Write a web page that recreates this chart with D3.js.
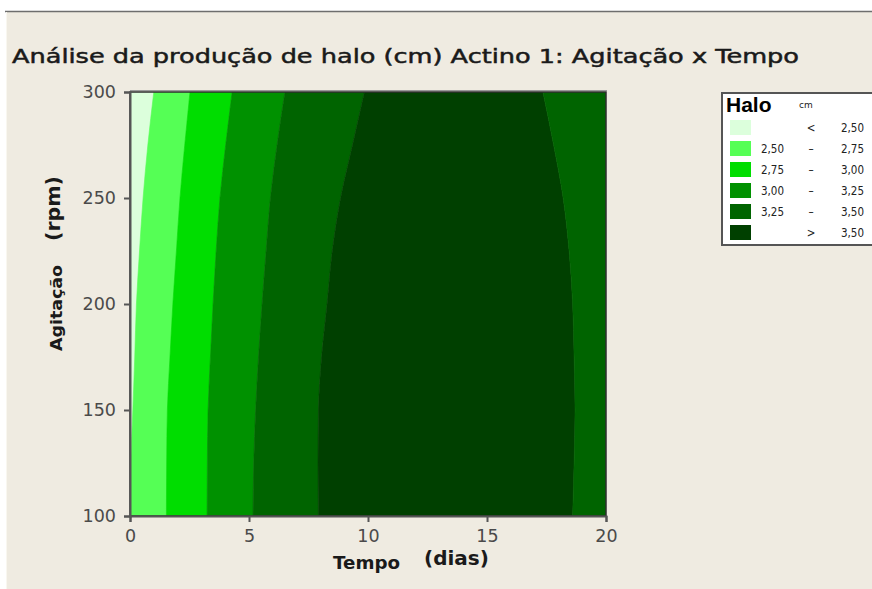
<!DOCTYPE html>
<html>
<head>
<meta charset="utf-8">
<script src="https://cdn.jsdelivr.net/npm/d3@7"></script>
<style>
  html, body { margin: 0; padding: 0; background: #ffffff; }
  svg { display: block; }
</style>
</head>
<body>
<svg id="chart" width="872" height="589"></svg>
<script>
// Contour plot: halo production (cm) versus agitation (rpm) and time (days)

// Agitation levels at which each contour line is sampled
const agitacao = [100, 125, 150, 175, 200, 225, 250, 275, 300];

// Tempo (days) of each contour line at the agitation levels above
const limite250 = [0.00, 0.03, 0.12, 0.20, 0.27, 0.40, 0.55, 0.75, 1.00];
const limite275 = [1.53, 1.54, 1.57, 1.68, 1.80, 1.95, 2.10, 2.30, 2.52];
const limite300 = [3.24, 3.25, 3.28, 3.38, 3.49, 3.62, 3.78, 4.02, 4.29];
const limite325 = [5.17, 5.20, 5.28, 5.40, 5.55, 5.72, 5.90, 6.18, 6.51];
const limite350Esq = [7.92, 7.90, 7.92, 8.05, 8.28, 8.50, 8.85, 9.35, 9.85];
const limite350Dir = [18.60, 18.66, 18.70, 18.66, 18.60, 18.45, 18.20, 17.80, 17.35];

// Legend classes
const classesMin = ["", "2,50", "2,75", "3,00", "3,25", ""];
const classesSep = ["<", "\u2013", "\u2013", "\u2013", "\u2013", ">"];
const classesMax = ["2,50", "2,75", "3,00", "3,25", "3,50", "3,50"];
const cores = ["#dcffdc", "#55ff55", "#00dd00", "#009100", "#006400", "#004000"];

// Axis ticks
const ticksTempo = [0, 5, 10, 15, 20];
const ticksAgitacao = [100, 150, 200, 250, 300];

const svg = d3.select("#chart");

// window frame
svg.append("rect").attr("x", 6).attr("y", 12).attr("width", 866).attr("height", 577)
  .attr("fill", "#efebe1");
svg.append("line").attr("x1", 5).attr("x2", 872).attr("y1", 11.5).attr("y2", 11.5)
  .attr("stroke", "#6e6e6e").attr("stroke-width", 1.5);
svg.append("line").attr("x1", 6.5).attr("x2", 6.5).attr("y1", 12).attr("y2", 589)
  .attr("stroke", "#f9f7f0").attr("stroke-width", 1);

const x = d3.scaleLinear().domain([0, 20]).range([130, 606]);
const y = d3.scaleLinear().domain([100, 300]).range([516, 92]);

// Filled bands between consecutive contour lines
const zero = agitacao.map(() => 0);
const vinte = agitacao.map(() => 20);
const faixas = [
  { cor: 0, esq: zero, dir: limite250 },
  { cor: 1, esq: limite250, dir: limite275 },
  { cor: 2, esq: limite275, dir: limite300 },
  { cor: 3, esq: limite300, dir: limite325 },
  { cor: 4, esq: limite325, dir: limite350Esq },
  { cor: 5, esq: limite350Esq, dir: limite350Dir },
  { cor: 4, esq: limite350Dir, dir: vinte }
];

svg.append("clipPath").attr("id", "areaPlot")
  .append("rect").attr("x", x(0)).attr("y", y(300))
  .attr("width", x(20) - x(0)).attr("height", y(100) - y(300));

const area = d3.area()
  .curve(d3.curveMonotoneY)
  .y((d, i) => y(agitacao[i]));

const g = svg.append("g").attr("clip-path", "url(#areaPlot)");
faixas.forEach(f => {
  g.append("path")
    .datum(agitacao)
    .attr("d", area.x0((d, i) => x(f.esq[i])).x1((d, i) => x(f.dir[i])))
    .attr("fill", cores[f.cor])
    .attr("stroke", cores[f.cor])
    .attr("stroke-width", 0.6);
});

// plot border
svg.append("rect").attr("x", x(0)).attr("y", y(300))
  .attr("width", x(20) - x(0)).attr("height", y(100) - y(300))
  .attr("fill", "none").attr("stroke", "#2e2e2e").attr("stroke-width", 1.5);
svg.append("line").attr("x1", x(0)).attr("x2", x(20) + 1).attr("y1", y(300) - 1.5).attr("y2", y(300) - 1.5)
  .attr("stroke", "#9a9a9a").attr("stroke-width", 1);

// axes
const fonteEixo = "'DejaVu Sans', Verdana, sans-serif";
const eixoX = svg.append("g").attr("transform", `translate(0,${y(100)})`)
  .call(d3.axisBottom(x).tickValues(ticksTempo).tickSize(6).tickPadding(8));
const eixoY = svg.append("g").attr("transform", `translate(${x(0)},0)`)
  .call(d3.axisLeft(y).tickValues(ticksAgitacao).tickSize(6).tickPadding(8));
[eixoX, eixoY].forEach(e => {
  e.select(".domain").attr("stroke", "#555").attr("stroke-width", 2);
  e.selectAll(".tick line").attr("stroke", "#555").attr("stroke-width", 2);
  e.selectAll(".tick text").attr("fill", "#4a4a4a")
    .style("font-family", fonteEixo).style("font-size", "17.5px");
});

// title
svg.append("text").attr("x", 12).attr("y", 63)
  .attr("textLength", 787).attr("lengthAdjust", "spacingAndGlyphs")
  .style("font-family", fonteEixo).style("font-size", "20px")
  .attr("fill", "#1a1a1a").attr("stroke", "#1a1a1a").attr("stroke-width", 0.5)
  .text("Análise da produção de halo (cm) Actino 1:  Agitação x Tempo");

// axis titles
svg.append("text").attr("x", 333).attr("y", 569)
  .attr("textLength", 67).attr("lengthAdjust", "spacingAndGlyphs")
  .style("font-family", fonteEixo).style("font-size", "17px").style("font-weight", "bold")
  .attr("fill", "#1a1a1a").text("Tempo");
svg.append("text").attr("x", 424).attr("y", 565)
  .style("font-family", fonteEixo).style("font-size", "20px").style("font-weight", "bold")
  .attr("fill", "#1a1a1a").text("(dias)");

svg.append("text")
  .attr("transform", "translate(62,351) rotate(-90)")
  .attr("textLength", 86).attr("lengthAdjust", "spacingAndGlyphs")
  .style("font-family", fonteEixo).style("font-size", "16.5px").style("font-weight", "bold")
  .attr("fill", "#1a1a1a").text("Agitação");
svg.append("text")
  .attr("transform", "translate(60,241) rotate(-90)")
  .attr("textLength", 65).attr("lengthAdjust", "spacingAndGlyphs")
  .style("font-family", fonteEixo).style("font-size", "19px").style("font-weight", "bold")
  .attr("fill", "#1a1a1a").text("(rpm)");

// legend
const leg = svg.append("g");
leg.append("rect").attr("x", 722).attr("y", 93).attr("width", 152).attr("height", 152)
  .attr("fill", "#ffffff").attr("stroke", "#555").attr("stroke-width", 2);
leg.append("text").attr("x", 726).attr("y", 112)
  .style("font-family", "'Liberation Sans Narrow', 'Liberation Sans', Arial, sans-serif")
  .style("font-size", "21px").style("font-weight", "bold")
  .attr("fill", "#000").text("Halo");
leg.append("text").attr("x", 799).attr("y", 108)
  .style("font-family", fonteEixo).style("font-size", "9px")
  .attr("fill", "#222").text("cm");

const linhas = leg.selectAll("g.linha").data(cores).join("g")
  .attr("class", "linha")
  .attr("transform", (d, i) => `translate(0,${120 + i * 21})`);
linhas.append("rect").attr("x", 730).attr("y", 0).attr("width", 21).attr("height", 15)
  .attr("fill", d => d);
const fonteLeg = "'DejaVu Sans Condensed', 'DejaVu Sans', sans-serif";
linhas.append("text").attr("x", 784).attr("y", 12).attr("text-anchor", "end")
  .style("font-family", fonteLeg).style("font-size", "11.5px").attr("fill", "#222")
  .text((d, i) => classesMin[i]);
linhas.append("text").attr("x", 811).attr("y", 12).attr("text-anchor", "middle")
  .style("font-family", fonteLeg).style("font-size", "11.5px").attr("fill", "#222")
  .text((d, i) => classesSep[i]);
linhas.append("text").attr("x", 864).attr("y", 12).attr("text-anchor", "end")
  .style("font-family", fonteLeg).style("font-size", "11.5px").attr("fill", "#222")
  .text((d, i) => classesMax[i]);
</script>
</body>
</html>
